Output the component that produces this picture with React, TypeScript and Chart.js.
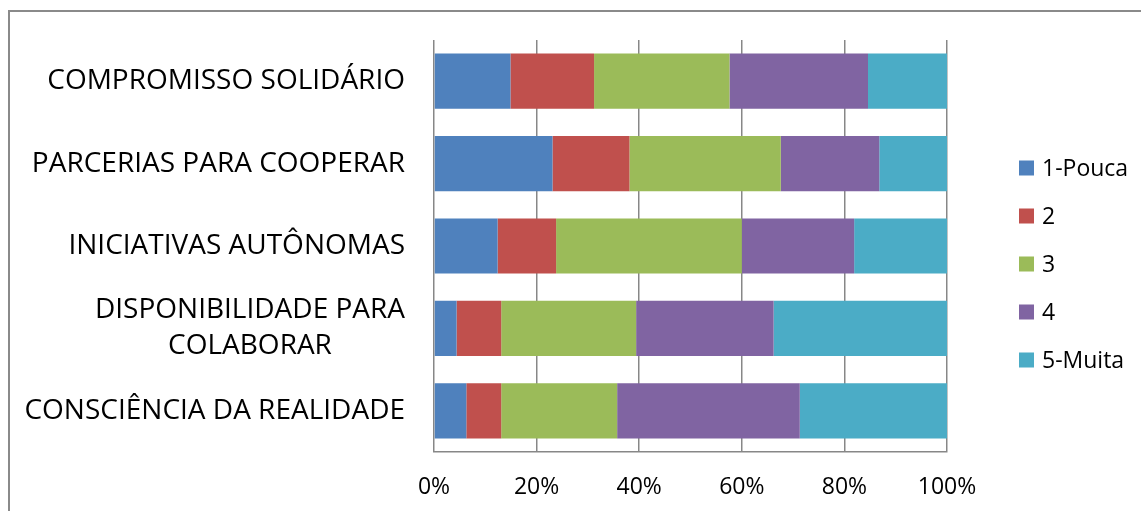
import React, { useEffect, useRef } from "react";
import { Chart, registerables } from "chart.js";

Chart.register(...registerables);

const categories: string[][] = [
  ["COMPROMISSO SOLIDÁRIO"],
  ["PARCERIAS PARA COOPERAR"],
  ["INICIATIVAS AUTÔNOMAS"],
  ["DISPONIBILIDADE PARA", "COLABORAR"],
  ["CONSCIÊNCIA DA REALIDADE"],
];

const seriesNames = ["1-Pouca", "2", "3", "4", "5-Muita"];
const seriesColors = ["#4F81BD", "#C0504D", "#9BBB59", "#8064A2", "#4BACC6"];

const pouca = [14.9, 23.1, 12.4, 4.4, 6.3];
const dois = [16.3, 15.0, 11.4, 8.7, 6.8];
const tres = [26.4, 29.5, 36.2, 26.3, 22.6];
const quatro = [27.0, 19.2, 21.9, 26.8, 35.6];
const muita = [15.4, 13.2, 18.1, 33.8, 28.7];

const xTicks = [0, 20, 40, 60, 80, 100];

const FONT = "'Open Sans', 'Noto Sans', sans-serif";

const yLabelPlugin = {
  id: "yLabels",
  afterDraw(chart: any) {
    const ctx = chart.ctx;
    const y = chart.scales.y;
    const right = chart.chartArea.left - 29;
    ctx.save();
    ctx.font = `28px ${FONT}`;
    ctx.fillStyle = "#000";
    ctx.textBaseline = "middle";
    ctx.textAlign = "center";
    const lineH = 36;
    categories.forEach((lines, i) => {
      const cy = y.getPixelForValue(i);
      const w = Math.max(...lines.map((l) => ctx.measureText(l).width));
      const cx = right - w / 2;
      const y0 = cy - ((lines.length - 1) * lineH) / 2;
      lines.forEach((l, j) => ctx.fillText(l, cx, y0 + j * lineH));
    });
    ctx.restore();
  },
};

const legendPlugin = {
  id: "customLegend",
  afterDraw(chart: any) {
    const ctx = chart.ctx;
    const boxX = chart.chartArea.right + 72;
    const startY = 168;
    const step = 48;
    const size = 15;
    ctx.save();
    ctx.font = `23px ${FONT}`;
    ctx.textBaseline = "middle";
    ctx.textAlign = "left";
    chart.data.datasets.forEach((ds: any, i: number) => {
      const cy = startY + i * step;
      ctx.fillStyle = ds.backgroundColor;
      ctx.fillRect(boxX, cy - size / 2, size, size);
      ctx.fillStyle = "#000";
      ctx.fillText(ds.label, boxX + size + 8, cy + 1);
    });
    ctx.restore();
  },
};

export default function App() {
  const ref = useRef<HTMLCanvasElement | null>(null);

  useEffect(() => {
    if (!ref.current) return;
    const values = [pouca, dois, tres, quatro, muita];
    const chart = new Chart(ref.current, {
      type: "bar",
      data: {
        labels: categories.map((c) => c.join(" ")),
        datasets: seriesNames.map((name, i) => ({
          label: name,
          data: values[i],
          backgroundColor: seriesColors[i],
          borderWidth: 0,
          barPercentage: 0.67,
          categoryPercentage: 1,
        })),
      },
      options: {
        indexAxis: "y",
        animation: false,
        responsive: false,
        maintainAspectRatio: false,
        layout: { padding: { left: 434, right: 194, top: 40, bottom: 0 } },
        plugins: {
          legend: { display: false },
          tooltip: { enabled: false },
        },
        scales: {
          x: {
            stacked: true,
            min: 0,
            max: 100,
            afterBuildTicks: (s: any) => {
              s.ticks = xTicks.map((v) => ({ value: v }));
            },
            afterFit: (s: any) => {
              s.height = 59;
            },
            ticks: {
              color: "#000",
              font: { family: FONT, size: 23 },
              padding: 22,
              callback: (v: any) => `${v}%`,
            },
            grid: {
              color: "#878787",
              lineWidth: 1.5,
              drawTicks: false,
            },
            border: { color: "#878787", width: 1.5 },
          },
          y: {
            stacked: true,
            ticks: { display: false },
            grid: { display: false, drawTicks: false },
            border: { display: false },
            afterFit: (s: any) => {
              s.width = 0;
            },
          },
        },
      },
      plugins: [yLabelPlugin, legendPlugin],
    });
    return () => chart.destroy();
  }, []);

  return (
    <div style={{ position: "absolute", left: 0, top: 0, width: 1141, height: 511, background: "#fff" }}>
      <div
        style={{
          position: "absolute",
          left: 8,
          top: 10,
          width: 1141,
          height: 511,
          borderLeft: "2px solid #8a8a8a",
          borderTop: "2px solid #8a8a8a",
        }}
      />
      <canvas ref={ref} width={1141} height={511} style={{ position: "absolute", left: 0, top: 0 }} />
    </div>
  );
}
